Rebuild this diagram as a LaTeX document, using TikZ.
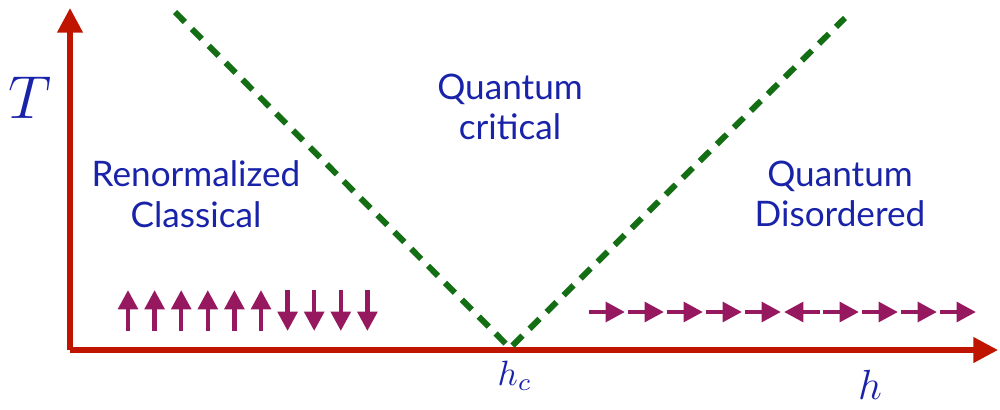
\documentclass[tikz,border=0pt]{standalone}
\usepackage{fontspec}
\setmainfont{Lato}
\usetikzlibrary{arrows.meta}
\definecolor{axisred}{RGB}{190,20,0}
\definecolor{lineg}{RGB}{20,110,20}
\definecolor{spin}{RGB}{150,25,95}
\definecolor{txtblue}{RGB}{25,35,170}
\begin{document}
\begin{tikzpicture}
[x=0.1mm,y=-0.1mm,
axis/.style={draw=axisred,line width=1.5pt,-{Triangle[length=7pt,width=7pt]}},
phase/.style={draw=lineg,line width=1.7pt,dash pattern=on 4pt off 2.8pt},
spinarr/.style={draw=spin,line width=1.3pt,-{Triangle[length=5.5pt,width=5.5pt]}},
lbl/.style={text=txtblue,font=\fontsize{10}{11.5}\selectfont,align=center},
]
\useasboundingbox (0,0) rectangle (1000,409);

%Axes
\coordinate (O) at (70,350);
\coordinate (Ttop) at (70,8);
\coordinate (hend) at (998,350);
\draw[axis] (O) -- (Ttop);
\draw[axis] (O) -- (hend);
\node (T) at (30,98) [text=txtblue,font=\fontsize{16}{16}\selectfont] {$T$};
\node (h) at (870,385) [text=txtblue,font=\fontsize{13}{13}\selectfont] {$h$};

%Crossover lines
\coordinate (hc) at (510,348);
\coordinate (L) at (175,12);
\coordinate (R) at (845,18);
\draw[phase] (L) -- (hc) -- (R);
\node (hcl) at (515,376) [text=txtblue,font=\fontsize{10}{10}\selectfont] {$h_c$};

%Regions
\node (qc) at (510,107) [lbl] {Quantum\\critical};
\node (rc) at (196,194) [lbl] {Renormalized\\Classical};
\node (qd) at (840,194) [lbl] {Quantum\\Disordered};

%Spins
\foreach \i in {0,...,5}
  \draw[spinarr] (128+26.6*\i,331) -- (128+26.6*\i,290);
\foreach \i in {6,...,9}
  \draw[spinarr] (128+26.6*\i,290) -- (128+26.6*\i,331);
\foreach \i in {0,1,2,3,4,6,7,8,9}
  \draw[spinarr] (589+39*\i,312) -- (625+39*\i,312);
\draw[spinarr] (820,312) -- (784,312);
\end{tikzpicture}
\end{document}
